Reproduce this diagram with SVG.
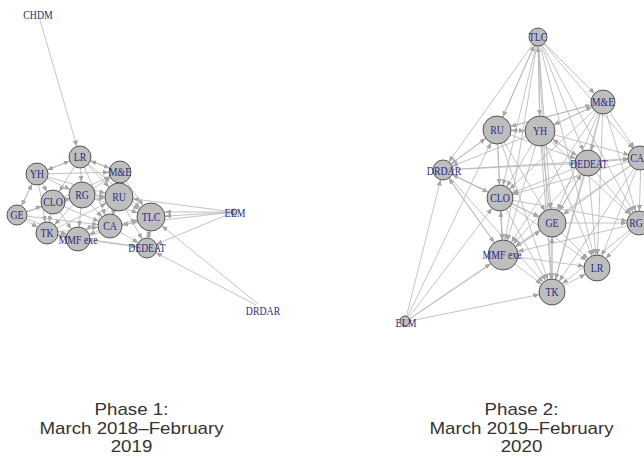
<svg xmlns="http://www.w3.org/2000/svg" width="644" height="458" viewBox="0 0 644 458">
<style>
.e line{stroke:#b4b4b4;stroke-width:0.8;fill:none}
.n circle{fill:#bebebe;stroke:#333;stroke-width:0.8}
.n text{font-family:"Liberation Serif",serif;font-size:12px;fill:#2b2b80;text-anchor:middle}
.cap text{font-family:"Liberation Sans",Arial,sans-serif;font-size:16px;fill:#333;text-anchor:middle}
</style>
<defs>
<marker id="a9" markerUnits="userSpaceOnUse" markerWidth="6" markerHeight="5" refX="15" refY="2.5" orient="auto"><path d="M0,0 L6,2.5 L0,5 z" fill="#a4a4a4"/></marker>
<marker id="a10" markerUnits="userSpaceOnUse" markerWidth="6" markerHeight="5" refX="16" refY="2.5" orient="auto"><path d="M0,0 L6,2.5 L0,5 z" fill="#a4a4a4"/></marker>
<marker id="a11" markerUnits="userSpaceOnUse" markerWidth="6" markerHeight="5" refX="17" refY="2.5" orient="auto"><path d="M0,0 L6,2.5 L0,5 z" fill="#a4a4a4"/></marker>
<marker id="a12" markerUnits="userSpaceOnUse" markerWidth="6" markerHeight="5" refX="18" refY="2.5" orient="auto"><path d="M0,0 L6,2.5 L0,5 z" fill="#a4a4a4"/></marker>
<marker id="a13" markerUnits="userSpaceOnUse" markerWidth="6" markerHeight="5" refX="19" refY="2.5" orient="auto"><path d="M0,0 L6,2.5 L0,5 z" fill="#a4a4a4"/></marker>
<marker id="a14" markerUnits="userSpaceOnUse" markerWidth="6" markerHeight="5" refX="20" refY="2.5" orient="auto"><path d="M0,0 L6,2.5 L0,5 z" fill="#a4a4a4"/></marker>
<marker id="a15" markerUnits="userSpaceOnUse" markerWidth="6" markerHeight="5" refX="21" refY="2.5" orient="auto"><path d="M0,0 L6,2.5 L0,5 z" fill="#a4a4a4"/></marker>
</defs>
<rect width="644" height="458" fill="#fff"/>
<g id="connectors" class="e">
<line x1="40" y1="20" x2="80" y2="157" marker-end="url(#a11)"/>
<line x1="37" y1="174" x2="80" y2="157" marker-end="url(#a11)"/>
<line x1="80" y1="157" x2="37" y2="174" marker-end="url(#a11)"/>
<line x1="80" y1="157" x2="120" y2="172" marker-end="url(#a11)"/>
<line x1="120" y1="172" x2="80" y2="157" marker-end="url(#a11)"/>
<line x1="80" y1="157" x2="82" y2="195" marker-end="url(#a13)"/>
<line x1="80" y1="157" x2="53" y2="202" marker-end="url(#a12)"/>
<line x1="80" y1="157" x2="119" y2="197" marker-end="url(#a14)"/>
<line x1="80" y1="157" x2="151" y2="217" marker-end="url(#a14)"/>
<line x1="80" y1="157" x2="110" y2="226" marker-end="url(#a12)"/>
<line x1="37" y1="174" x2="53" y2="202" marker-end="url(#a12)"/>
<line x1="37" y1="174" x2="17" y2="215" marker-end="url(#a10)"/>
<line x1="17" y1="215" x2="37" y2="174" marker-end="url(#a11)"/>
<line x1="37" y1="174" x2="82" y2="195" marker-end="url(#a13)"/>
<line x1="37" y1="174" x2="120" y2="172" marker-end="url(#a11)"/>
<line x1="37" y1="174" x2="119" y2="197" marker-end="url(#a14)"/>
<line x1="37" y1="174" x2="47" y2="233" marker-end="url(#a11)"/>
<line x1="17" y1="215" x2="53" y2="202" marker-end="url(#a12)"/>
<line x1="17" y1="215" x2="47" y2="233" marker-end="url(#a11)"/>
<line x1="17" y1="215" x2="78" y2="239" marker-end="url(#a12)"/>
<line x1="17" y1="215" x2="82" y2="195" marker-end="url(#a13)"/>
<line x1="17" y1="215" x2="110" y2="226" marker-end="url(#a12)"/>
<line x1="53" y1="202" x2="47" y2="233" marker-end="url(#a11)"/>
<line x1="53" y1="202" x2="82" y2="195" marker-end="url(#a13)"/>
<line x1="53" y1="202" x2="78" y2="239" marker-end="url(#a12)"/>
<line x1="53" y1="202" x2="110" y2="226" marker-end="url(#a12)"/>
<line x1="53" y1="202" x2="119" y2="197" marker-end="url(#a14)"/>
<line x1="53" y1="202" x2="120" y2="172" marker-end="url(#a11)"/>
<line x1="82" y1="195" x2="119" y2="197" marker-end="url(#a14)"/>
<line x1="82" y1="195" x2="110" y2="226" marker-end="url(#a12)"/>
<line x1="82" y1="195" x2="78" y2="239" marker-end="url(#a12)"/>
<line x1="82" y1="195" x2="47" y2="233" marker-end="url(#a11)"/>
<line x1="82" y1="195" x2="151" y2="217" marker-end="url(#a14)"/>
<line x1="82" y1="195" x2="120" y2="172" marker-end="url(#a11)"/>
<line x1="119" y1="197" x2="120" y2="172" marker-end="url(#a11)"/>
<line x1="119" y1="197" x2="151" y2="217" marker-end="url(#a14)"/>
<line x1="119" y1="197" x2="110" y2="226" marker-end="url(#a12)"/>
<line x1="119" y1="197" x2="147" y2="248" marker-end="url(#a10)"/>
<line x1="119" y1="197" x2="78" y2="239" marker-end="url(#a12)"/>
<line x1="120" y1="172" x2="151" y2="217" marker-end="url(#a14)"/>
<line x1="120" y1="172" x2="110" y2="226" marker-end="url(#a12)"/>
<line x1="110" y1="226" x2="151" y2="217" marker-end="url(#a14)"/>
<line x1="110" y1="226" x2="147" y2="248" marker-end="url(#a10)"/>
<line x1="110" y1="226" x2="78" y2="239" marker-end="url(#a12)"/>
<line x1="78" y1="239" x2="47" y2="233" marker-end="url(#a11)"/>
<line x1="47" y1="233" x2="78" y2="239" marker-end="url(#a12)"/>
<line x1="78" y1="239" x2="147" y2="248" marker-end="url(#a10)"/>
<line x1="47" y1="233" x2="110" y2="226" marker-end="url(#a12)"/>
<line x1="47" y1="233" x2="147" y2="248" marker-end="url(#a10)"/>
<line x1="151" y1="217" x2="147" y2="248" marker-end="url(#a10)"/>
<line x1="147" y1="248" x2="151" y2="217" marker-end="url(#a14)"/>
<line x1="47" y1="233" x2="119" y2="197" marker-end="url(#a14)"/>
<line x1="78" y1="239" x2="151" y2="217" marker-end="url(#a14)"/>
<line x1="234" y1="212" x2="151" y2="217" marker-end="url(#a14)"/>
<line x1="234" y1="212" x2="151" y2="212" marker-end="url(#a14)"/>
<line x1="234" y1="212" x2="119" y2="197" marker-end="url(#a14)"/>
<line x1="234" y1="212" x2="110" y2="226" marker-end="url(#a12)"/>
<line x1="234" y1="212" x2="147" y2="248" marker-end="url(#a10)"/>
<line x1="258" y1="304" x2="151" y2="217" marker-end="url(#a14)"/>
<line x1="256" y1="305" x2="147" y2="248" marker-end="url(#a10)"/>
<line x1="538" y1="37" x2="497" y2="130" marker-end="url(#a14)"/>
<line x1="538" y1="37" x2="540" y2="131" marker-end="url(#a15)"/>
<line x1="540" y1="131" x2="538" y2="37" marker-end="url(#a9)"/>
<line x1="538" y1="37" x2="603" y2="102" marker-end="url(#a12)"/>
<line x1="538" y1="37" x2="443" y2="170" marker-end="url(#a10)"/>
<line x1="538" y1="37" x2="588" y2="163" marker-end="url(#a13)"/>
<line x1="538" y1="37" x2="500" y2="198" marker-end="url(#a13)"/>
<line x1="538" y1="37" x2="552" y2="223" marker-end="url(#a14)"/>
<line x1="538" y1="37" x2="503" y2="255" marker-end="url(#a15)"/>
<line x1="538" y1="37" x2="552" y2="292" marker-end="url(#a13)"/>
<line x1="538" y1="37" x2="597" y2="268" marker-end="url(#a13)"/>
<line x1="538" y1="37" x2="641" y2="158" marker-end="url(#a12)"/>
<line x1="538" y1="37" x2="639" y2="223" marker-end="url(#a12)"/>
<line x1="497" y1="130" x2="538" y2="37" marker-end="url(#a9)"/>
<line x1="497" y1="130" x2="540" y2="131" marker-end="url(#a15)"/>
<line x1="540" y1="131" x2="497" y2="130" marker-end="url(#a14)"/>
<line x1="497" y1="130" x2="603" y2="102" marker-end="url(#a12)"/>
<line x1="540" y1="131" x2="603" y2="102" marker-end="url(#a12)"/>
<line x1="603" y1="102" x2="540" y2="131" marker-end="url(#a15)"/>
<line x1="497" y1="130" x2="500" y2="198" marker-end="url(#a13)"/>
<line x1="497" y1="130" x2="443" y2="170" marker-end="url(#a10)"/>
<line x1="497" y1="130" x2="503" y2="255" marker-end="url(#a15)"/>
<line x1="497" y1="130" x2="552" y2="223" marker-end="url(#a14)"/>
<line x1="497" y1="130" x2="552" y2="292" marker-end="url(#a13)"/>
<line x1="497" y1="130" x2="588" y2="163" marker-end="url(#a13)"/>
<line x1="540" y1="131" x2="500" y2="198" marker-end="url(#a13)"/>
<line x1="540" y1="131" x2="552" y2="223" marker-end="url(#a14)"/>
<line x1="540" y1="131" x2="588" y2="163" marker-end="url(#a13)"/>
<line x1="588" y1="163" x2="540" y2="131" marker-end="url(#a15)"/>
<line x1="540" y1="131" x2="503" y2="255" marker-end="url(#a15)"/>
<line x1="540" y1="131" x2="552" y2="292" marker-end="url(#a13)"/>
<line x1="540" y1="131" x2="597" y2="268" marker-end="url(#a13)"/>
<line x1="540" y1="131" x2="639" y2="223" marker-end="url(#a12)"/>
<line x1="540" y1="131" x2="641" y2="158" marker-end="url(#a12)"/>
<line x1="540" y1="131" x2="443" y2="170" marker-end="url(#a10)"/>
<line x1="603" y1="102" x2="588" y2="163" marker-end="url(#a13)"/>
<line x1="603" y1="102" x2="641" y2="158" marker-end="url(#a12)"/>
<line x1="603" y1="102" x2="552" y2="223" marker-end="url(#a14)"/>
<line x1="603" y1="102" x2="500" y2="198" marker-end="url(#a13)"/>
<line x1="603" y1="102" x2="597" y2="268" marker-end="url(#a13)"/>
<line x1="603" y1="102" x2="639" y2="223" marker-end="url(#a12)"/>
<line x1="603" y1="102" x2="552" y2="292" marker-end="url(#a13)"/>
<line x1="603" y1="102" x2="503" y2="255" marker-end="url(#a15)"/>
<line x1="603" y1="102" x2="497" y2="130" marker-end="url(#a14)"/>
<line x1="588" y1="163" x2="641" y2="158" marker-end="url(#a12)"/>
<line x1="588" y1="163" x2="500" y2="198" marker-end="url(#a13)"/>
<line x1="588" y1="163" x2="552" y2="223" marker-end="url(#a14)"/>
<line x1="588" y1="163" x2="597" y2="268" marker-end="url(#a13)"/>
<line x1="588" y1="163" x2="639" y2="223" marker-end="url(#a12)"/>
<line x1="588" y1="163" x2="552" y2="292" marker-end="url(#a13)"/>
<line x1="588" y1="163" x2="503" y2="255" marker-end="url(#a15)"/>
<line x1="443" y1="170" x2="588" y2="163" marker-end="url(#a13)"/>
<line x1="443" y1="170" x2="641" y2="158" marker-end="url(#a12)"/>
<line x1="641" y1="158" x2="639" y2="223" marker-end="url(#a12)"/>
<line x1="641" y1="158" x2="552" y2="223" marker-end="url(#a14)"/>
<line x1="641" y1="158" x2="597" y2="268" marker-end="url(#a13)"/>
<line x1="641" y1="158" x2="500" y2="198" marker-end="url(#a13)"/>
<line x1="641" y1="158" x2="503" y2="255" marker-end="url(#a15)"/>
<line x1="641" y1="158" x2="552" y2="292" marker-end="url(#a13)"/>
<line x1="443" y1="170" x2="500" y2="198" marker-end="url(#a13)"/>
<line x1="443" y1="170" x2="503" y2="255" marker-end="url(#a15)"/>
<line x1="443" y1="170" x2="552" y2="292" marker-end="url(#a13)"/>
<line x1="443" y1="170" x2="552" y2="223" marker-end="url(#a14)"/>
<line x1="443" y1="170" x2="497" y2="130" marker-end="url(#a14)"/>
<line x1="500" y1="198" x2="552" y2="223" marker-end="url(#a14)"/>
<line x1="500" y1="198" x2="503" y2="255" marker-end="url(#a15)"/>
<line x1="503" y1="255" x2="500" y2="198" marker-end="url(#a13)"/>
<line x1="500" y1="198" x2="552" y2="292" marker-end="url(#a13)"/>
<line x1="500" y1="198" x2="597" y2="268" marker-end="url(#a13)"/>
<line x1="500" y1="198" x2="639" y2="223" marker-end="url(#a12)"/>
<line x1="500" y1="198" x2="443" y2="170" marker-end="url(#a10)"/>
<line x1="552" y1="223" x2="552" y2="292" marker-end="url(#a13)"/>
<line x1="552" y1="292" x2="552" y2="223" marker-end="url(#a14)"/>
<line x1="552" y1="223" x2="597" y2="268" marker-end="url(#a13)"/>
<line x1="552" y1="223" x2="639" y2="223" marker-end="url(#a12)"/>
<line x1="552" y1="223" x2="503" y2="255" marker-end="url(#a15)"/>
<line x1="552" y1="223" x2="588" y2="163" marker-end="url(#a13)"/>
<line x1="639" y1="223" x2="597" y2="268" marker-end="url(#a13)"/>
<line x1="639" y1="223" x2="552" y2="292" marker-end="url(#a13)"/>
<line x1="639" y1="223" x2="503" y2="255" marker-end="url(#a15)"/>
<line x1="503" y1="255" x2="552" y2="292" marker-end="url(#a13)"/>
<line x1="503" y1="255" x2="597" y2="268" marker-end="url(#a13)"/>
<line x1="552" y1="292" x2="597" y2="268" marker-end="url(#a13)"/>
<line x1="503" y1="255" x2="443" y2="170" marker-end="url(#a10)"/>
<line x1="405" y1="322" x2="443" y2="170" marker-end="url(#a10)"/>
<line x1="405" y1="322" x2="500" y2="198" marker-end="url(#a13)"/>
<line x1="405" y1="322" x2="503" y2="255" marker-end="url(#a15)"/>
<line x1="405" y1="322" x2="552" y2="292" marker-end="url(#a13)"/>
<line x1="405" y1="322" x2="497" y2="130" marker-end="url(#a14)"/>
<line x1="405" y1="322" x2="552" y2="223" marker-end="url(#a14)"/>
</g>
<g id="phase1-nodes" class="n">
<g id="p1-CHDM"><text transform="translate(38,19) scale(0.82,1)">CHDM</text></g>
<g id="p1-LR"><circle cx="80" cy="157" r="11"/><text transform="translate(80,161) scale(0.82,1)">LR</text></g>
<g id="p1-YH"><circle cx="37" cy="174" r="11"/><text transform="translate(37,178) scale(0.82,1)">YH</text></g>
<g id="p1-ME"><circle cx="120" cy="172" r="11"/><text transform="translate(120,176) scale(0.82,1)">M&amp;E</text></g>
<g id="p1-RG"><circle cx="82" cy="195" r="13"/><text transform="translate(82,199) scale(0.82,1)">RG</text></g>
<g id="p1-CLO"><circle cx="53" cy="202" r="12"/><text transform="translate(53,206) scale(0.82,1)">CLO</text></g>
<g id="p1-RU"><circle cx="119" cy="197" r="14"/><text transform="translate(119,201) scale(0.82,1)">RU</text></g>
<g id="p1-GE"><circle cx="17" cy="215" r="10"/><text transform="translate(17,219) scale(0.82,1)">GE</text></g>
<g id="p1-TK"><circle cx="47" cy="233" r="11"/><text transform="translate(47,237) scale(0.82,1)">TK</text></g>
<g id="p1-MMF"><circle cx="78" cy="239" r="12"/><text transform="translate(78,244) scale(0.82,1)">MMF exe</text></g>
<g id="p1-CA"><circle cx="110" cy="226" r="12"/><text transform="translate(110,230) scale(0.82,1)">CA</text></g>
<g id="p1-TLC"><circle cx="151" cy="217" r="14"/><text transform="translate(151,221) scale(0.82,1)">TLC</text></g>
<g id="p1-DEDEAT"><circle cx="147" cy="248" r="10"/><text transform="translate(147,252) scale(0.8,1)">DEDEAT</text></g>
<g id="p1-ELM"><circle cx="234" cy="212" r="3"/><text transform="translate(235,217) scale(0.82,1)">ELM</text></g>
<g id="p1-DRDAR"><text transform="translate(263,315) scale(0.82,1)">DRDAR</text></g>
</g>
<g id="phase2-nodes" class="n">
<g id="p2-TLC"><circle cx="538" cy="37" r="9"/><text transform="translate(538,41) scale(0.82,1)">TLC</text></g>
<g id="p2-ME"><circle cx="603" cy="102" r="12"/><text transform="translate(603,106) scale(0.82,1)">M&amp;E</text></g>
<g id="p2-RU"><circle cx="497" cy="130" r="14"/><text transform="translate(497,134) scale(0.82,1)">RU</text></g>
<g id="p2-YH"><circle cx="540" cy="131" r="15"/><text transform="translate(540,135) scale(0.82,1)">YH</text></g>
<g id="p2-DEDEAT"><circle cx="588" cy="163" r="13"/><text transform="translate(589,168) scale(0.8,1)">DEDEAT</text></g>
<g id="p2-CA"><circle cx="640" cy="158" r="12"/><text transform="translate(637,162) scale(0.82,1)">CA</text></g>
<g id="p2-DRDAR"><circle cx="443" cy="170" r="10"/><text transform="translate(444,175) scale(0.82,1)">DRDAR</text></g>
<g id="p2-CLO"><circle cx="500" cy="198" r="13"/><text transform="translate(500,202) scale(0.82,1)">CLO</text></g>
<g id="p2-GE"><circle cx="552" cy="223" r="14"/><text transform="translate(552,227) scale(0.82,1)">GE</text></g>
<g id="p2-RG"><circle cx="639" cy="223" r="12"/><text transform="translate(636,227) scale(0.82,1)">RG</text></g>
<g id="p2-MMF"><circle cx="503" cy="255" r="15"/><text transform="translate(502,259) scale(0.82,1)">MMF exe</text></g>
<g id="p2-LR"><circle cx="597" cy="268" r="13"/><text transform="translate(597,272) scale(0.82,1)">LR</text></g>
<g id="p2-TK"><circle cx="552" cy="292" r="13"/><text transform="translate(552,296) scale(0.82,1)">TK</text></g>
<g id="p2-ELM"><circle cx="405" cy="321" r="5"/><text transform="translate(406,327) scale(0.82,1)">ELM</text></g>
</g>
<g id="captions" class="cap">
<g transform="translate(131.5,0) scale(1.17,1)"><text x="0" y="415">Phase 1:</text><text x="0" y="434">March 2018–February</text><text x="0" y="452">2019</text></g>
<g transform="translate(521.5,0) scale(1.17,1)"><text x="0" y="415">Phase 2:</text><text x="0" y="434">March 2019–February</text><text x="0" y="452">2020</text></g>
</g>
</svg>
